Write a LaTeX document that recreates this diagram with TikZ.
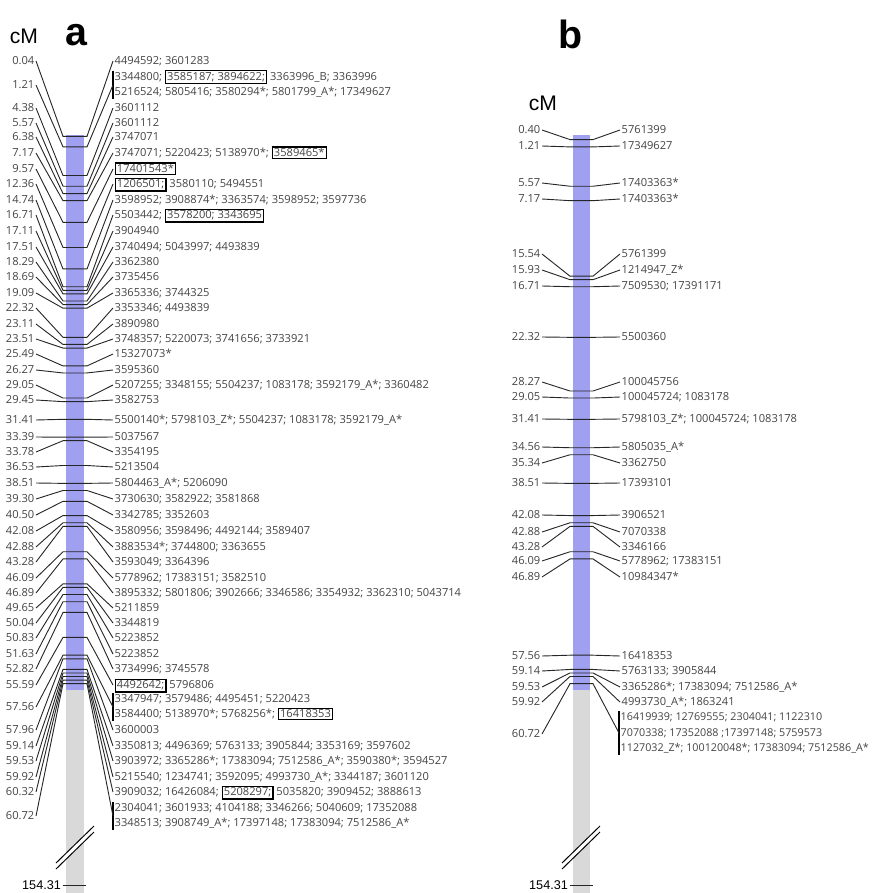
\documentclass[tikz,border=0pt]{standalone}
\usepackage{fontspec}
\setmainfont{Open Sans}
\newfontfamily\headfont{Liberation Sans}
\usetikzlibrary{positioning}
\definecolor{chrblue}{HTML}{A0A0F0}
\definecolor{chrgray}{HTML}{D9D9D9}
\definecolor{mkgray}{HTML}{444444}
\setlength{\fboxsep}{0.7pt}
\setlength{\fboxrule}{0.9pt}
\newcommand{\bx}[1]{\smash{\textcolor{black}{\fbox{\textcolor{mkgray}{#1}}}}}

\begin{document}
\begin{tikzpicture}[
    x=0.025cm, y=-0.025cm,
    cmlab/.style={anchor=east, inner sep=1pt, text=mkgray, font=\fontsize{7.9}{10.9}\selectfont, text height=6.4pt, text depth=0.8pt},
    mklab/.style={cmlab, anchor=west},
    grplab/.style={anchor=west, inner sep=1pt, text=mkgray, font=\fontsize{7.9}{10.9}\selectfont, align=left},
    link/.style={line width=0.65pt, draw=black!85},
    grpbar/.style={line width=1.5pt, black},
    unit/.style={font=\headfont\fontsize{15}{15}\selectfont},
    panel/.style={font=\headfont\bfseries\fontsize{28}{28}\selectfont},
    endlab/.style={font=\headfont\fontsize{9}{9}\selectfont, inner sep=1pt},
    brk/.style={line width=0.7pt}
]
\useasboundingbox (0,0) rectangle (875,893);

% Headings
\node[unit] (a_unit) at (24,36) {cM};
\node[panel] (a_name) at (76,35) {a};
\node[unit] (b_unit) at (543,103) {cM};
\node[panel] (b_name) at (571,34) {b};

% Chromosome a
\fill[chrblue] (66,135) rectangle (84,690);
\fill[chrgray] (66,690) rectangle (84,893);
\fill[white] (56,869) -- (94,832) -- (94,826) -- (56,863) -- cycle;
\draw[brk] (56,869) -- (94,832);
\draw[brk] (56,863) -- (94,826);
\coordinate (a_tickl) at (64,885);
\coordinate (a_tickr) at (86,885);
\node[endlab, left=1pt of a_tickl] (a_end) {154.31};
\draw[link] (a_end.east) -- (a_tickr);

% Chromosome b
\fill[chrblue] (573,135) rectangle (590,690);
\fill[chrgray] (573,690) rectangle (590,893);
\fill[white] (562,869) -- (600,832) -- (600,826) -- (562,863) -- cycle;
\draw[brk] (562,869) -- (600,832);
\draw[brk] (562,863) -- (600,826);
\coordinate (b_tickl) at (571,885);
\coordinate (b_tickr) at (593,885);
\node[endlab, left=1pt of b_tickl] (b_end) {154.31};
\draw[link] (b_end.east) -- (b_tickr);

% Markers a
\foreach \i/\cmv/\ly/\txt in {
    1/0.04/61/{4494592; 3601283},
    3/4.38/108/{3601112},
    4/5.57/123/{3601112},
    5/6.38/137/{3747071},
    6/7.17/153/{3747071; 5220423; 5138970*; \bx{3589465*}},
    7/9.57/169/{\bx{17401543*}},
    8/12.36/184/{\bx{1206501;} 3580110; 5494551},
    9/14.74/200/{3598952; 3908874*; 3363574; 3598952; 3597736},
    10/16.71/215/{5503442; \bx{3578200; 3343695}},
    11/17.11/231/{3904940},
    12/17.51/247/{3740494; 5043997; 4493839},
    13/18.29/262/{3362380},
    14/18.69/277/{3735456},
    15/19.09/293/{3365336; 3744325},
    16/22.32/308/{3353346; 4493839},
    17/23.11/324/{3890980},
    18/23.51/339/{3748357; 5220073; 3741656; 3733921},
    19/25.49/354/{15327073*},
    20/26.27/370/{3595360},
    21/29.05/385/{5207255; 3348155; 5504237; 1083178; 3592179\_A*; 3360482},
    22/29.45/400/{3582753},
    23/31.41/420/{5500140*; 5798103\_Z*; 5504237; 1083178; 3592179\_A*},
    24/33.39/437/{5037567},
    25/33.78/452/{3354195},
    26/36.53/467/{5213504},
    27/38.51/483/{5804463\_A*; 5206090},
    28/39.30/499/{3730630; 3582922; 3581868},
    29/40.50/515/{3342785; 3352603},
    30/42.08/531/{3580956; 3598496; 4492144; 3589407},
    31/42.88/547/{3883534*; 3744800; 3363655},
    32/43.28/562/{3593049; 3364396},
    33/46.09/578/{5778962; 17383151; 3582510},
    34/46.89/593/{3895332; 5801806; 3902666; 3346586; 3354932; 3362310; 5043714},
    35/49.65/608/{5211859},
    36/50.04/623/{3344819},
    37/50.83/638/{5223852},
    38/51.63/654/{5223852},
    39/52.82/669/{3734996; 3745578},
    40/55.59/685/{\bx{4492642;} 5796806},
    42/57.96/730/{3600003},
    43/59.14/746/{3350813; 4496369; 5763133; 3905844; 3353169; 3597602},
    44/59.53/761/{3903972; 3365286*; 17383094; 7512586\_A*; 3590380*; 3594527},
    45/59.92/777/{5215540; 1234741; 3592095; 4993730\_A*; 3344187; 3601120},
    46/60.32/792/{3909032; 16426084; \bx{5208297;} 5035820; 3909452; 3888613}%
}{
    \node[cmlab] (a_cm\i) at (36,\ly) {\cmv};
    \node[mklab] (a_mk\i) at (113,\ly) {\txt};
    \coordinate (a_l\i) at (63,{136+9.02*\cmv});
    \coordinate (a_r\i) at (87,{136+9.02*\cmv});
    \draw[link] (a_cm\i.east) -- (a_l\i) -- (a_r\i) -- (a_mk\i.west);
}

% Grouped markers a
\foreach \i/\cmv/\ly/\txt in {
    2/1.21/85/{3344800; \bx{3585187; 3894622;} 3363996\_B; 3363996\\5216524; 5805416; 3580294*; 5801799\_A*; 17349627},
    41/57.56/707/{3347947; 3579486; 4495451; 5220423\\3584400; 5138970*; 5768256*; \bx{16418353}},
    47/60.72/816/{2304041; 3601933; 4104188; 3346266; 5040609; 17352088\\3348513; 3908749\_A*; 17397148; 17383094; 7512586\_A*}%
}{
    \node[cmlab] (a_cm\i) at (36,\ly) {\cmv};
    \node[grplab] (a_mk\i) at (113,\ly) {\txt};
    \draw[grpbar] (a_mk\i.north west) -- (a_mk\i.south west);
    \coordinate (a_l\i) at (63,{136+9.02*\cmv});
    \coordinate (a_r\i) at (87,{136+9.02*\cmv});
    \draw[link] (a_cm\i.east) -- (a_l\i) -- (a_r\i) -- (a_mk\i.west);
}

% Markers b
\foreach \i/\cmv/\ly/\txt in {
    1/0.40/130/{5761399},
    2/1.21/146/{17349627},
    3/5.57/183/{17403363*},
    4/7.17/199/{17403363*},
    5/15.54/254/{5761399},
    6/15.93/270/{1214947\_Z*},
    7/16.71/286/{7509530; 17391171},
    8/22.32/337/{5500360},
    9/28.27/382/{100045756},
    10/29.05/397/{100045724; 1083178},
    11/31.41/419/{5798103\_Z*; 100045724; 1083178},
    12/34.56/447/{5805035\_A*},
    13/35.34/463/{3362750},
    14/38.51/483/{17393101},
    15/42.08/515/{3906521},
    16/42.88/532/{7070338},
    17/43.28/547/{3346166},
    18/46.09/561/{5778962; 17383151},
    19/46.89/577/{10984347*},
    20/57.56/656/{16418353},
    21/59.14/671/{5763133; 3905844},
    22/59.53/687/{3365286*; 17383094; 7512586\_A*},
    23/59.92/702/{4993730\_A*; 1863241}%
}{
    \node[cmlab] (b_cm\i) at (542,\ly) {\cmv};
    \node[mklab] (b_mk\i) at (620,\ly) {\txt};
    \coordinate (b_l\i) at (570,{136+9.02*\cmv});
    \coordinate (b_r\i) at (593,{136+9.02*\cmv});
    \draw[link] (b_cm\i.east) -- (b_l\i) -- (b_r\i) -- (b_mk\i.west);
}

% Grouped markers b
\node[cmlab] (b_cm24) at (542,734) {60.72};
\node[grplab, font=\fontsize{7.65}{10.9}\selectfont] (b_mk24) at (619,733) {16419939; 12769555; 2304041; 1122310\\7070338; 17352088 ;17397148; 5759573\\1127032\_Z*; 100120048*; 17383094; 7512586\_A*};
\draw[grpbar] (b_mk24.north west) -- (b_mk24.south west);
\coordinate (b_l24) at (570,{136+9.02*60.72});
\coordinate (b_r24) at (593,{136+9.02*60.72});
\draw[link] (b_cm24.east) -- (b_l24) -- (b_r24) -- (b_mk24.west);
\end{tikzpicture}
\end{document}
